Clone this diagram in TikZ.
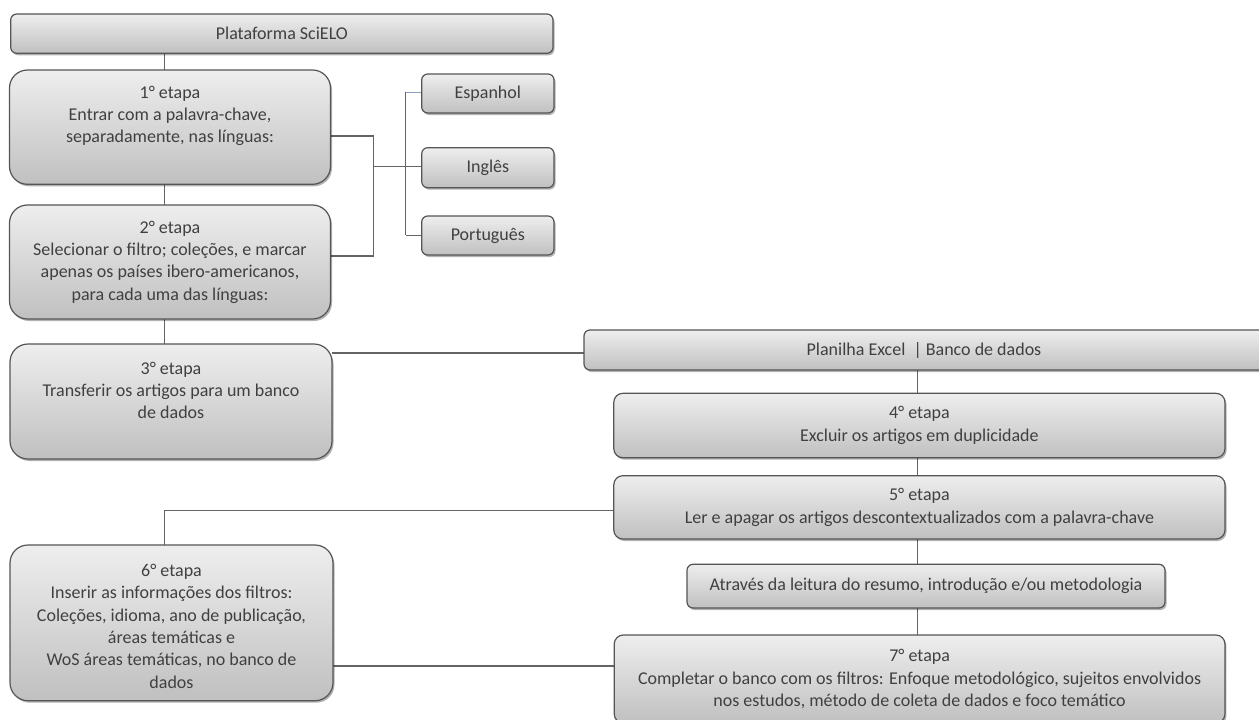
\documentclass[tikz,border=0pt]{standalone}
\usepackage{fontspec}
\setmainfont{Carlito}
\usetikzlibrary{shadows,backgrounds}
\definecolor{boxline}{RGB}{85,85,85}
\definecolor{linkc}{RGB}{100,100,100}
\definecolor{txtc}{RGB}{64,64,64}
\definecolor{bluestub}{RGB}{140,160,190}
\definecolor{shtop}{RGB}{238,238,238}
\definecolor{shbot}{RGB}{192,192,192}
\begin{document}
\begin{tikzpicture}[x=1pt,y=-1pt,
  box/.style={draw=boxline, line width=1.2pt, top color=shtop, bottom color=shbot,
    drop shadow={shadow xshift=1.5pt, shadow yshift=-2pt, opacity=0.3, fill=black},
    inner sep=0pt, outer sep=0pt, text=txtc, align=center,
    font=\fontsize{18}{22.3}\selectfont},
  bigbox/.style={box, rounded corners=18pt},
  midbox/.style={box, rounded corners=9pt},
  smallbox/.style={box, rounded corners=6pt},
  txt/.style={text=txtc, align=center, inner sep=0pt, font=\fontsize{18}{22.3}\selectfont},
  link/.style={draw=linkc, line width=1.2pt}]
\useasboundingbox (0,0) rectangle (1259,720);
\clip (0,0) rectangle (1259,720);

% boxes
\node[smallbox, minimum width=542.3pt, minimum height=39.3pt] (top) at (281.85,33.65) {Plataforma SciELO};
\node[bigbox, minimum width=321pt, minimum height=114.3pt] (s1) at (170,127.15) {};
\node[txt] (s1t) at (170,116) {1° etapa\\Entrar com a palavra-chave,\\separadamente, nas línguas:};
\node[bigbox, minimum width=321pt, minimum height=114pt] (s2) at (170,262) {2° etapa\\Selecionar o filtro; coleções, e marcar\\apenas os países ibero-americanos,\\para cada uma das línguas:};
\node[bigbox, minimum width=322pt, minimum height=115pt] (s3) at (171,401.5) {};
\node[txt] (s3t) at (171,390.3) {3° etapa\\Transferir os artigos para um banco\\de dados};
\node[bigbox, minimum width=323pt, minimum height=155.7pt] (s6) at (171.5,622.85) {};
\node[txt] (s6t) at (171.5,626.3) {6° etapa\\Inserir as informações dos filtros:\\Coleções, idioma, ano de publicação,\\áreas temáticas e\\WoS áreas temáticas, no banco de\\dados};

\node[smallbox, minimum width=132.3pt, minimum height=39pt] (esp) at (487.85,93.5) {Espanhol};
\node[smallbox, minimum width=132.3pt, minimum height=40pt] (ing) at (487.85,167.7) {Inglês};
\node[smallbox, minimum width=132.3pt, minimum height=39pt] (por) at (487.85,235.5) {Português};

\node[smallbox, minimum width=691pt, minimum height=40pt] (plan) at (929.5,350) {};
\node[txt] (plant) at (924,350) {Planilha Excel \ | Banco de dados};

\node[midbox, minimum width=611.2pt, minimum height=64.4pt] (s4) at (919.4,425.5) {4° etapa\\Excluir os artigos em duplicidade};
\node[midbox, minimum width=611.2pt, minimum height=63.3pt] (s5) at (919.4,507.35) {5° etapa\\Ler e apagar os artigos descontextualizados com a palavra-chave};
\node[smallbox, minimum width=478pt, minimum height=43.7pt] (atr) at (926,586.15) {Através da leitura do resumo, introdução e/ou metodologia};
\node[midbox, minimum width=610.7pt, minimum height=88pt] (s7) at (919.6,679) {7° etapa\\Completar o banco com os filtros: Enfoque metodológico, sujeitos envolvidos\\nos estudos, método de coleta de dados e foco temático};

% helper coordinates
\coordinate (cx) at (164.6,0);
\coordinate (cx2) at (917.7,0);
\coordinate (b1) at (373.2,136);
\coordinate (b2) at (373.2,256);
\coordinate (bm) at (373.2,166.7);
\coordinate (v1) at (405.7,92.3);
\coordinate (v2) at (405.7,235.3);
\coordinate (h3) at (0,353);
\coordinate (h5) at (0,510.5);
\coordinate (h6) at (0,666);

\begin{scope}[on background layer]
\draw[link] (top.south -| cx) -- (s1.north -| cx);
\draw[link] (s1.south -| cx) -- (s2.north -| cx);
\draw[link] (s2.south -| cx) -- (s3.north -| cx);
\draw[link] (s1.east |- b1) -- (b1) -- (b2) -- (s2.east |- b2);
\draw[link] (bm) -- (ing.west |- bm);
\draw[link] (v1) -- (v2);
\draw[link, draw=bluestub] (v1) -- (esp.west |- v1);
\draw[link] (v2) -- (por.west |- v2);
\draw[link] (s3.east |- h3) -- (plan.west |- h3);
\draw[link] (plan.south -| cx2) -- (s4.north -| cx2);
\draw[link] (s4.south -| cx2) -- (s5.north -| cx2);
\draw[link] (s5.south -| cx2) -- (atr.north -| cx2);
\draw[link] (atr.south -| cx2) -- (s7.north -| cx2);
\draw[link] (s5.west |- h5) -| (s6.north -| cx);
\draw[link] (s6.east |- h6) -- (s7.west |- h6);
\end{scope}
\end{tikzpicture}
\end{document}
